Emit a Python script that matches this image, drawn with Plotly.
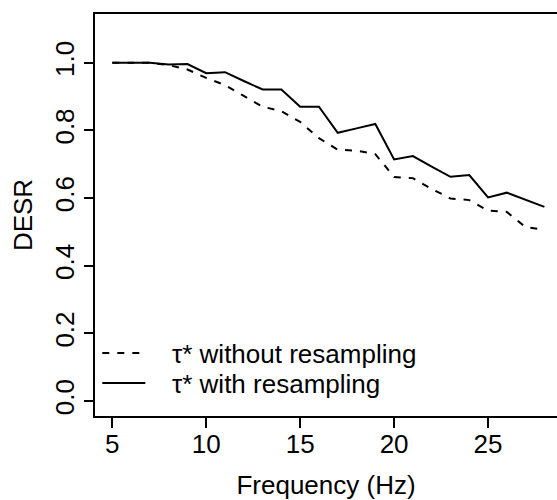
import plotly.graph_objects as go

freq = list(range(5, 29))
desr_without = [1.0, 1.0, 1.0, 0.993, 0.98, 0.955, 0.934, 0.902, 0.870, 0.857,
                0.825, 0.777, 0.743, 0.740, 0.730, 0.662, 0.659, 0.627, 0.599,
                0.594, 0.563, 0.559, 0.514, 0.507]
desr_with = [1.0, 1.0, 1.0, 0.995, 0.996, 0.969, 0.972, 0.946, 0.921, 0.921,
             0.870, 0.870, 0.793, 0.806, 0.819, 0.714, 0.724, 0.693, 0.663,
             0.668, 0.602, 0.616, 0.594, 0.574]
x_ticks = [5, 10, 15, 20, 25]
y_ticks = [0.0, 0.2, 0.4, 0.6, 0.8, 1.0]
y_tick_text = ["0.0", "0.2", "0.4", "0.6", "0.8", "1.0"]
pad = "\u00a0" * 3
names = [pad + "τ* without resampling", pad + "τ* with resampling"]

FONT = "Liberation Sans, Arial, sans-serif"
FS = 26

fig = go.Figure()
fig.add_trace(go.Scatter(x=freq, y=desr_without, mode="lines", name=names[0],
                         legend="legend",
                         line=dict(color="black", width=2, dash="7px,8px")))
fig.add_trace(go.Scatter(x=freq, y=desr_with, mode="lines", name=names[1],
                         legend="legend2",
                         line=dict(color="black", width=2)))

leg_common = dict(x=0.005, xanchor="left", yanchor="top",
                  bgcolor="rgba(0,0,0,0)", itemwidth=43, font=dict(size=FS))

fig.update_layout(
    width=557, height=500,
    margin=dict(l=95, r=0, t=14, b=84, autoexpand=False),
    paper_bgcolor="white", plot_bgcolor="white",
    font=dict(family=FONT, size=FS, color="black"),
    showlegend=True,
    legend=dict(y=0.215, **leg_common),
    legend2=dict(y=0.140, **leg_common),
)
fig.update_xaxes(
    range=[4.08, 28.67], tickvals=x_ticks, ticks="outside", ticklen=10,
    tickwidth=1.5, tickcolor="black", showline=True, linecolor="black",
    linewidth=1.5, mirror=True, showgrid=False, zeroline=False,
    automargin=False, ticklabelstandoff=-6, tickfont=dict(size=FS),
    title=dict(text="Frequency (Hz)", standoff=20, font=dict(size=FS)),
)
fig.update_yaxes(
    range=[-0.044, 1.144], tickvals=y_ticks, ticktext=y_tick_text,
    ticks="outside", ticklen=9, tickwidth=1.5, tickcolor="black",
    tickangle=-90, showline=True, linecolor="black", linewidth=1.5,
    mirror=False, showgrid=False, zeroline=False, automargin=False,
    ticklabelstandoff=0, tickfont=dict(size=FS),
    title=dict(text="DESR", standoff=10, font=dict(size=FS)),
)

fig.write_html("out.html")
